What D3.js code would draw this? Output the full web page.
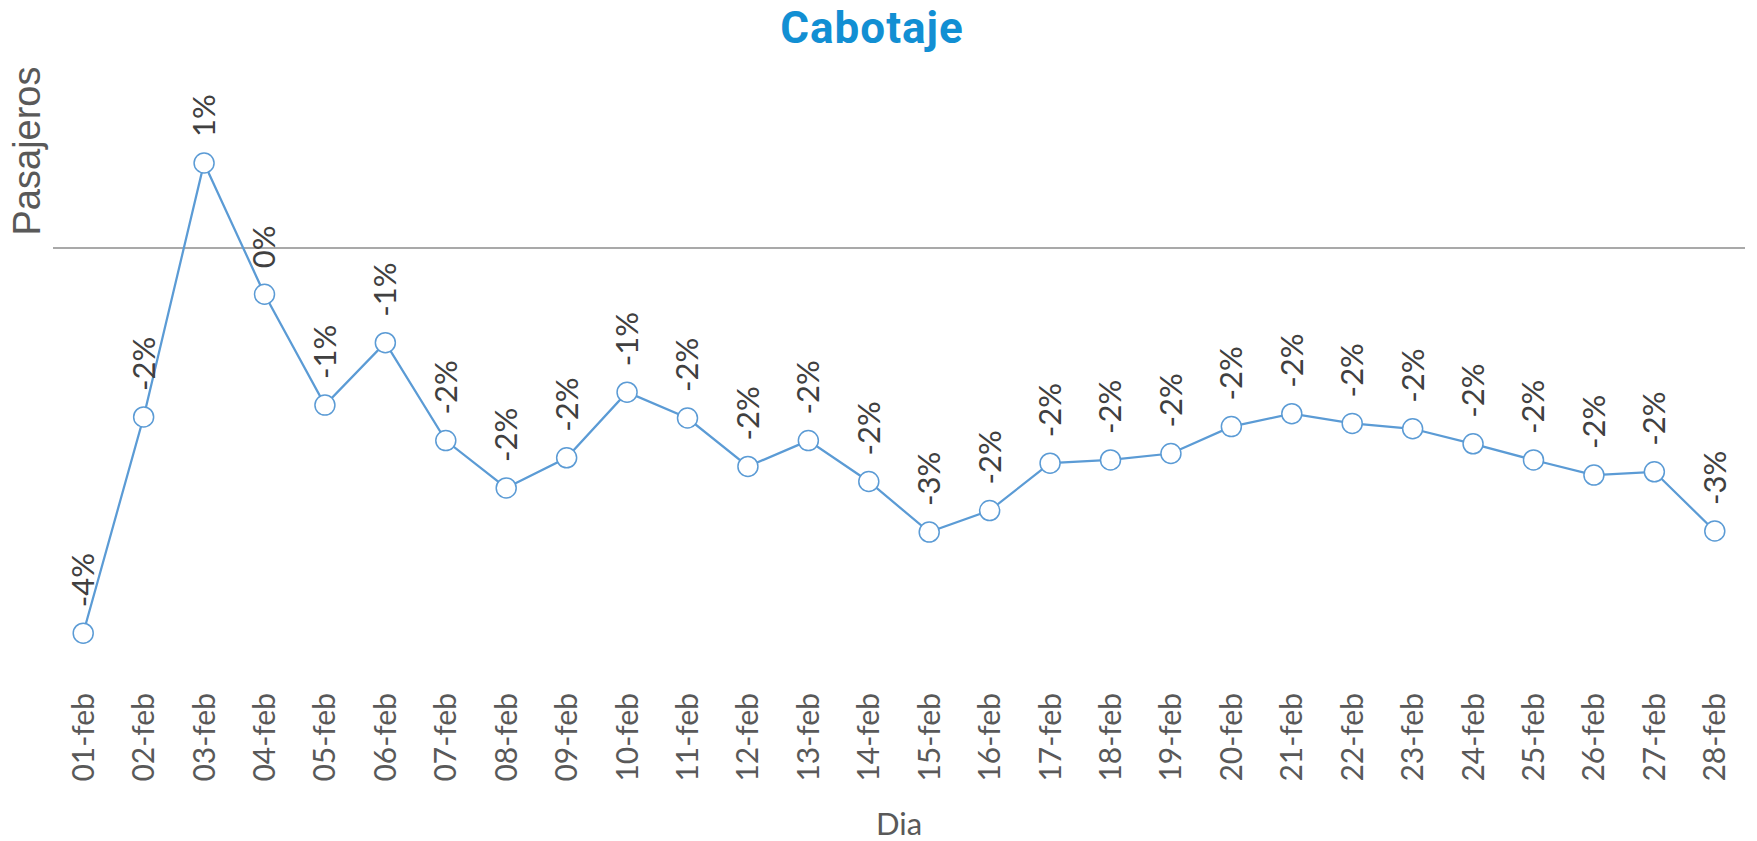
<!DOCTYPE html>
<html>
<meta charset="utf-8">
<head>
  <script src="https://cdn.jsdelivr.net/npm/d3@7"></script>
  <style>
    body { margin: 0; background: #fff; }
  </style>
</head>
<body>
<script>
    // dias de febrero y variacion (%) de pasajeros de cabotaje
    const dias = ['01-feb','02-feb','03-feb','04-feb','05-feb','06-feb','07-feb','08-feb','09-feb','10-feb',
                  '11-feb','12-feb','13-feb','14-feb','15-feb','16-feb','17-feb','18-feb','19-feb','20-feb',
                  '21-feb','22-feb','23-feb','24-feb','25-feb','26-feb','27-feb','28-feb']
    const variacion = [-3.58, -1.57, 0.79, -0.43, -1.46, -0.88, -1.79, -2.23, -1.95, -1.34,
                       -1.58, -2.03, -1.79, -2.17, -2.64, -2.44, -2.00, -1.97, -1.91, -1.66,
                       -1.54, -1.63, -1.68, -1.82, -1.97, -2.11, -2.08, -2.63]
    const titulo = 'Cabotaje'
    const ejeY = 'Pasajeros'
    const ejeX = 'Dia'

    const W = 1757, H = 841
    const azul = '#5b9bd5'

    const svg = d3.select('body').append('svg').attr('width', W).attr('height', H)

    const x = d3.scaleBand().domain(dias).range([53, 1745])
    const y = d3.scaleLinear().domain([-4, 1.5]).range([678.4, 86.6])
    const cx = d => x(d) + x.bandwidth() / 2

    function etiqueta(v) {
	let r = Math.round(v)
	if (r === 0) r = 0   // evita "-0"
	return r + '%'
    }

    // titulo
    svg.append('text')
	.attr('x', 872).attr('y', 43)
	.attr('text-anchor', 'middle')
	.style('font-family', 'Roboto')
	.style('font-weight', 'bold')
	.style('font-size', '44px')
	.style('letter-spacing', '1px')
	.style('fill', '#128fd3')
	.text(titulo)

    // linea de cero
    svg.append('line')
	.attr('x1', x.range()[0]).attr('x2', x.range()[1])
	.attr('y1', y(0)).attr('y2', y(0))
	.attr('stroke', '#8c8c8c')
	.attr('stroke-width', 1.5)

    // eje x (solo etiquetas)
    const ax = svg.append('g')
	.attr('transform', `translate(0,693)`)
	.call(d3.axisBottom(x).tickSize(0).tickPadding(0))
    ax.select('.domain').remove()
    ax.selectAll('text')
	.attr('transform', 'rotate(-90)')
	.attr('x', 0).attr('y', 0).attr('dy', '0.35em')
	.attr('text-anchor', 'end')
	.style('font-family', 'Lato')
	.style('font-size', '30px')
	.style('fill', '#595959')

    // titulos de ejes
    svg.append('text')
	.attr('transform', 'translate(40,151) rotate(-90)')
	.attr('text-anchor', 'middle')
	.style('font-family', 'Liberation Sans')
	.style('font-size', '38px')
	.style('fill', '#595959')
	.text(ejeY)

    svg.append('text')
	.attr('x', 899).attr('y', 835)
	.attr('text-anchor', 'middle')
	.style('font-family', 'Lato')
	.style('font-size', '31px')
	.style('fill', '#595959')
	.text(ejeX)

    // serie
    const datos = dias.map((d, i) => ({dia: d, v: variacion[i]}))

    svg.append('path')
	.datum(datos)
	.attr('fill', 'none')
	.attr('stroke', azul)
	.attr('stroke-width', 2.25)
	.attr('d', d3.line().x(d => cx(d.dia)).y(d => y(d.v)))

    svg.selectAll('circle')
	.data(datos)
	.join('circle')
	.attr('cx', d => cx(d.dia))
	.attr('cy', d => y(d.v))
	.attr('r', 10)
	.attr('fill', '#fff')
	.attr('stroke', azul)
	.attr('stroke-width', 1.5)

    svg.selectAll('.etq')
	.data(datos)
	.join('text')
	.attr('class', 'etq')
	.attr('transform', d => `translate(${cx(d.dia)},${y(d.v) - 26}) rotate(-90)`)
	.attr('dy', '0.35em')
	.attr('text-anchor', 'start')
	.style('font-family', 'Lato')
	.style('font-size', '31px')
	.style('fill', '#404040')
	.text(d => etiqueta(d.v))
</script>
</body>
</html>
